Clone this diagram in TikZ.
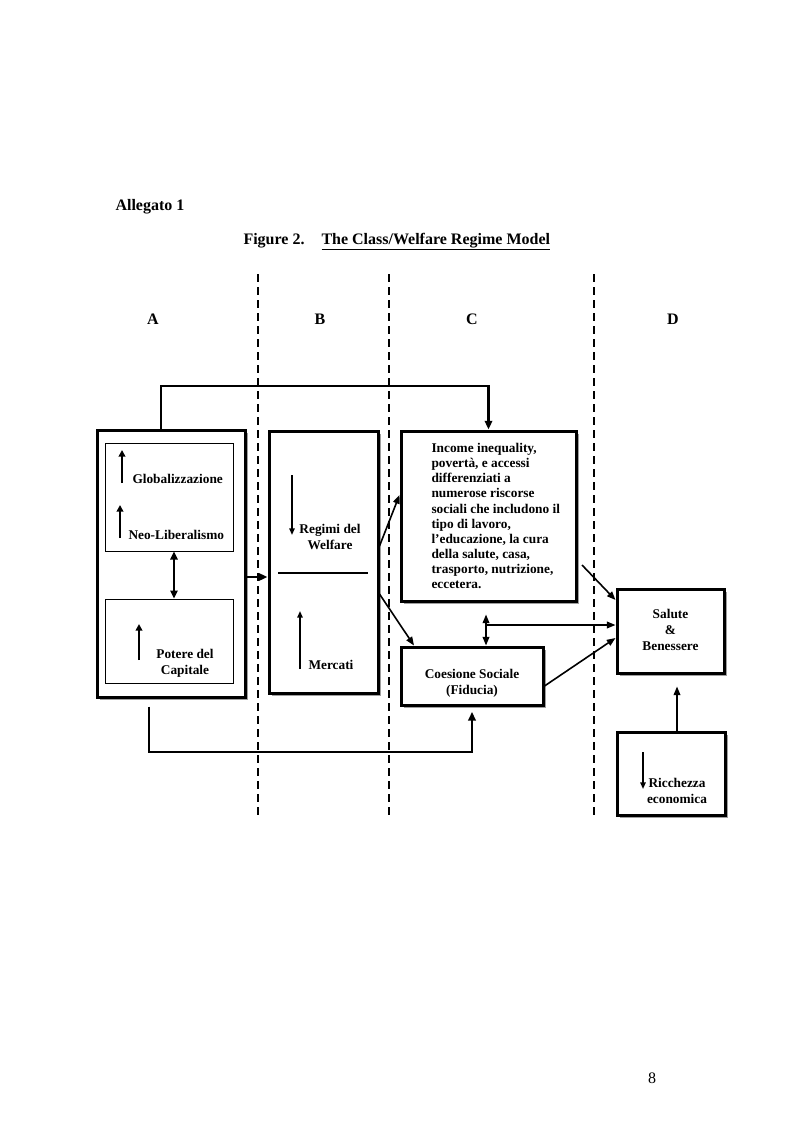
\documentclass[tikz,border=0pt]{standalone}
\usepackage{fontspec}
\setmainfont{Liberation Serif}
\usetikzlibrary{arrows.meta,shadows}

\tikzset{every picture/.style={line width=0.75pt}}
\tikzset{
  bigbox/.style={draw, line width=2.25pt, fill=white, inner sep=0pt,
    drop shadow={shadow xshift=2.6pt, shadow yshift=-2.6pt, fill=gray!75, opacity=1}},
  smallbox/.style={draw, line width=0.75pt, inner sep=0pt},
  txt/.style={inner sep=0.75pt, font=\fontsize{10}{11.8}\selectfont\bfseries},
  conn/.style={line width=1.2pt, -{Triangle[length=6.5pt,width=5pt]}},
  thickconn/.style={line width=2.2pt, -{Triangle[length=6.5pt,width=5.5pt]}},
  trend/.style={line width=1.2pt, -{Triangle[length=5pt,width=4pt]}},
  boldtrend/.style={line width=2pt, -{Triangle[length=5pt,width=5pt]}},
  divider/.style={line width=1.5pt, dash pattern=on 6pt off 3.75pt},
}

\begin{document}
\begin{tikzpicture}[x=0.75pt,y=0.75pt,yscale=-1,xscale=1]
    \useasboundingbox (0,0) rectangle (793,1123);
    % Heading
    \draw (115,211) node [anchor=base west][inner sep=0pt] (allegato) {\fontsize{12}{14}\selectfont\bfseries Allegato 1};
    \draw (243,244) node [anchor=base west][inner sep=0pt] (figno) {\fontsize{12}{14}\selectfont\bfseries Figure 2.};
    \draw (321,244) node [anchor=base west][inner sep=0pt] (figtitle) {\fontsize{12}{14}\selectfont\bfseries\underline{The Class/Welfare Regime Model}};
    % Column dividers
    \draw [divider] (258,274) -- (258,815) ;
    \draw [divider] (389,274) -- (389,815) ;
    \draw [divider] (594,274) -- (594,815) ;
    % Column letters
    \draw (153,324) node [anchor=base][inner sep=0pt] (colA) {\fontsize{12}{14}\selectfont\bfseries A};
    \draw (320,324) node [anchor=base][inner sep=0pt] (colB) {\fontsize{12}{14}\selectfont\bfseries B};
    \draw (472,324) node [anchor=base][inner sep=0pt] (colC) {\fontsize{12}{14}\selectfont\bfseries C};
    \draw (673,324) node [anchor=base][inner sep=0pt] (colD) {\fontsize{12}{14}\selectfont\bfseries D};
    % Box A
    \draw (171,563.5) node [bigbox, minimum width=111pt, minimum height=200.25pt] (boxA) {};
    \draw (169,497) node [smallbox, minimum width=96pt, minimum height=81pt] (forze) {};
    \draw (169,641) node [smallbox, minimum width=96pt, minimum height=63pt] (potere) {};
    \draw [boldtrend] (122,483) -- (122,450) ;
    \draw (131,483) node [anchor=base west][txt] (glob) {Globalizzazione};
    \draw [boldtrend] (120,538) -- (120,505) ;
    \draw (127,539) node [anchor=base west][txt] (neolib) {Neo-Liberalismo};
    \draw [boldtrend] (139,660) -- (139,624) ;
    \draw (185,674) node [anchor=base][txt, align=center] (capitale) {Potere del\\Capitale};
    % Connection
    \draw [line width=2.2pt, {Triangle[length=6pt,width=5.5pt]}-{Triangle[length=6pt,width=5.5pt]}] (forze.south -| 174,0) -- (potere.north -| 174,0) ;
    % Box B
    \draw (323.5,562) node [bigbox, minimum width=81.75pt, minimum height=196.5pt] (boxB) {};
    \draw [trend] (292,475) -- (292,535) ;
    \draw (330,549) node [anchor=base][txt, align=center] (regimi) {Regimi del\\Welfare};
    \draw [line width=1.3pt] (278,573) -- (368,573) ;
    \draw [trend] (300,669) -- (300,611) ;
    \draw (307,669) node [anchor=base west][txt] (mercati) {Mercati};
    % Box C
    \draw (488.5,516) node [bigbox, minimum width=131.25pt, minimum height=127.5pt] (income) {};
    \draw (430,442) node [anchor=north west][txt, font=\fontsize{10}{11.3}\selectfont\bfseries, align=left] (incometxt) {Income inequality,\\povertà, e accessi\\differenziati a\\numerose riscorse\\sociali che includono il\\tipo di lavoro,\\l’educazione, la cura\\della salute, casa,\\trasporto, nutrizione,\\eccetera.};
    \draw (472,676) node [bigbox, minimum width=106.5pt, minimum height=43.5pt] (coesione) {};
    \draw (472,694) node [anchor=base][txt, align=center] (coesionetxt) {Coesione Sociale\\(Fiducia)};
    % Box D
    \draw (670.5,631) node [bigbox, minimum width=80.25pt, minimum height=63pt] (salute) {};
    \draw (670.5,650) node [anchor=base][txt, align=center] (salutetxt) {Salute\\\&\\Benessere};
    \draw (671,773.5) node [bigbox, minimum width=81pt, minimum height=62.25pt] (ricchezza) {};
    \draw [trend] (643,752) -- (643,789) ;
    \draw (677,803) node [anchor=base][txt, align=center] (ricchezzatxt) {Ricchezza\\economica};
    % Connection
    \coordinate (topA) at (161,386);
    \draw [thickconn] (topA |- boxA.north) -- (topA) -| (income.north) ;
    % Connection
    \coordinate (botA) at (149,752);
    \draw [thickconn, shorten <=6pt, shorten >=4pt] (botA |- boxA.south) -- (botA) -| (coesione.south) ;
    % Connection
    \draw [thickconn] (boxA.east |- 0,577) -- (boxB.west |- 0,577) ;
    % Connection
    \draw [conn] (boxB.east |- 0,546) -- (income.west |- 0,495) ;
    % Connection
    \draw [conn] (boxB.east |- 0,594) -- (coesione.north -| 414,0) ;
    % Connection
    \draw [conn, {Triangle[length=6.5pt,width=5pt]}-{Triangle[length=6.5pt,width=5pt]}, shorten <=9pt] (income.south -| 486,0) -- (coesione.north -| 486,0) ;
    \draw [conn] (486,625) -- (salute.west |- 0,625) ;
    % Connection
    \draw [conn] (582,565) -- (salute.west |- 0,600) ;
    % Connection
    \draw [conn] (coesione.east |- 0,686) -- (salute.west |- 0,638) ;
    % Connection
    \draw [conn, shorten >=9pt] (ricchezza.north -| 677,0) -- (salute.south -| 677,0) ;
    % Page number
    \draw (652,1083) node [anchor=base][inner sep=0pt] (pageno) {\fontsize{12}{14}\selectfont 8};
\end{tikzpicture}
\end{document}
